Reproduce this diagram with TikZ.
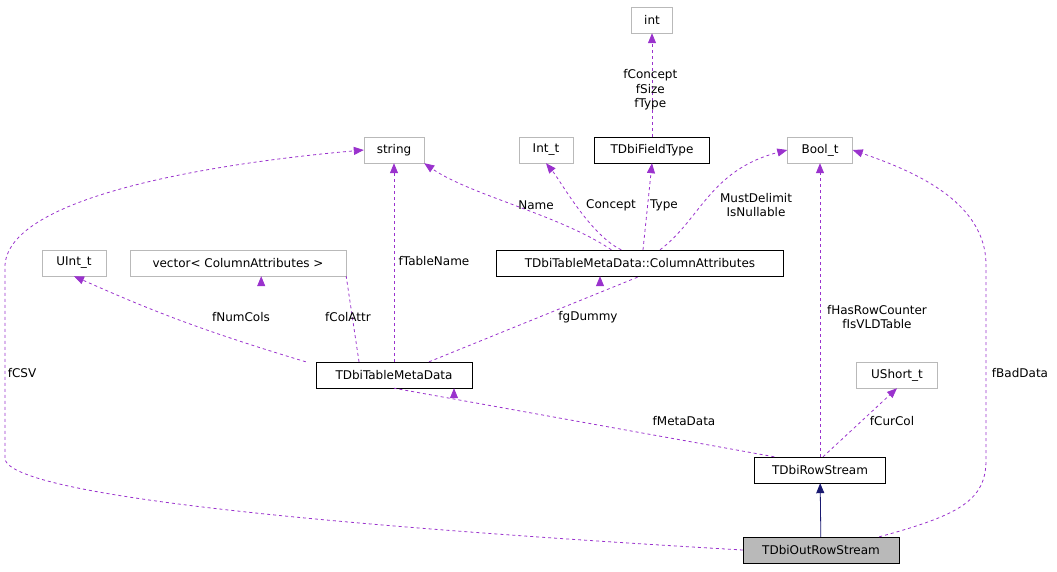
\documentclass[tikz,border=0pt]{standalone}
\usepackage{fontspec}
\setmainfont{DejaVu Sans}
\usetikzlibrary{arrows.meta}
\definecolor{pur}{HTML}{9A32CD}
\definecolor{nav}{HTML}{191970}
\begin{document}
\begin{tikzpicture}[x=1pt,y=-1pt,
  box/.style={draw=black,fill=white,inner sep=0pt,minimum height=26pt,font=\fontsize{12}{14}\selectfont},
  gbox/.style={box,draw=gray!55},
  dep/.style={draw=pur,dashed,line width=0.8pt,-{Triangle[length=10pt,width=8pt,fill=pur]}},
  lab/.style={font=\fontsize{12}{14.5}\selectfont,align=center,inner sep=1pt}]
\useasboundingbox (0,0) rectangle (1057,571);
\node[gbox,minimum width=41pt] (int) at (652,20) {int};
\node[box,minimum width=115pt] (ft) at (652,150) {TDbiFieldType};
\node[gbox,minimum width=60pt] (str) at (394,150) {string};
\node[gbox,minimum width=54pt] (intt) at (546,150) {Int\_t};
\node[gbox,minimum width=65pt] (bool) at (820,150) {Bool\_t};
\node[gbox,minimum width=64pt] (uint) at (74,263) {UInt\_t};
\node[gbox,minimum width=216pt] (vec) at (238,263) {vector< ColumnAttributes >};
\node[box,minimum width=287pt] (ca) at (640,263) {TDbiTableMetaData::ColumnAttributes};
\node[gbox,minimum width=81pt] (ush) at (897,375) {UShort\_t};
\node[box,minimum width=156pt] (tmd) at (394,375) {TDbiTableMetaData};
\node[box,minimum width=131pt] (rs) at (820,470) {TDbiRowStream};
\node[box,minimum width=156pt,fill=gray!55] (ors) at (821,550) {TDbiOutRowStream};

\draw[dep] (ft) -- (int) node[lab,pos=0.45,right=-30pt] {fConcept\\fSize\\fType};
\draw[dep] (ca.north west)++(115,0) .. controls (560,215) and (470,195) .. (str.south east);
\node[lab] at (536,205) {Name};
\draw[dep] (ca.north west)++(125,0) .. controls (590,235) and (560,180) .. (intt.south);
\node[lab] at (611,205) {Concept};
\draw[dep] (ca.north)++(3,0) -- (ft.south);
\node[lab] at (664,205) {Type};
\draw[dep] (ca.north)++(20,0) .. controls (700,220) and (710,170) .. (bool.west);
\node[lab] at (756,205) {MustDelimit\\IsNullable};
\draw[dep] (tmd.north west)++(-10,0) .. controls (200,330) and (150,310) .. (uint.south);
\node[lab] at (241,317) {fNumCols};
\draw[dep] (tmd.north)++(-35,0) -- (vec.south east)++(-85,0);
\node[lab] at (348,317) {fColAttr};
\draw[dep] (tmd) -- (str);
\node[lab] at (434,261) {fTableName};
\draw[dep] (tmd.north)++(35,0) -- (ca.south)++(-40,0);
\node[lab] at (588,317) {fgDummy};
\draw[dep] (rs.north west)++(20,0) -- (tmd.south)++(60,0);
\node[lab] at (684,421) {fMetaData};
\draw[dep] (rs.north)++(3,0) -- (ush.south);
\node[lab] at (892,421) {fCurCol};
\draw[dep] (rs) -- (bool);
\node[lab] at (877,317) {fHasRowCounter\\fIsVLDTable};
\draw[draw=nav,line width=0.8pt,-{Triangle[length=10pt,width=8pt,fill=nav]}] (ors) -- (rs);
\draw[dep] (ors.west) .. controls (400,530) and (20,500) .. (5,460) -- (5,265) .. controls (10,190) and (250,160) .. (str.west);
\node[lab] at (22,373) {fCSV};
\draw[dep] (ors.north east)++(-20,0) .. controls (960,515) and (986,500) .. (986,460) -- (986,265) .. controls (986,200) and (910,170) .. (bool.east);
\node[lab] at (1020,373) {fBadData};
\end{tikzpicture}
\end{document}
